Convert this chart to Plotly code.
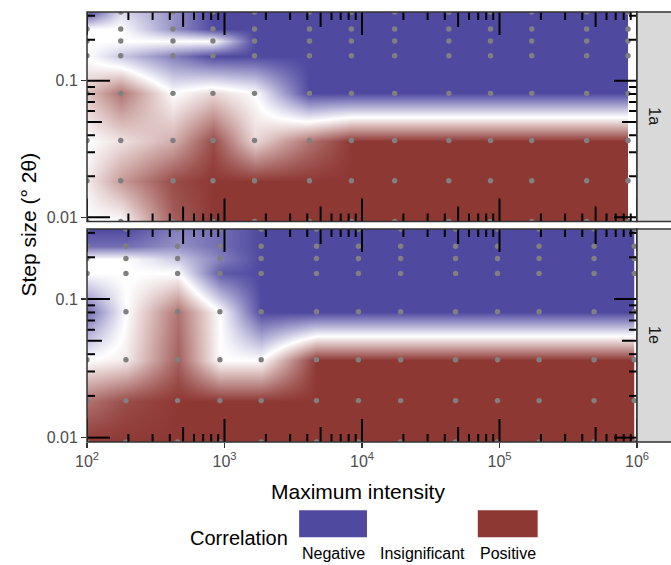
import numpy as np
import plotly.graph_objects as go

# ---------------- data ----------------
panel_labels = ["1a", "1e"]
# step sizes (rows, top -> bottom)
step_sizes = [0.32, 0.24, 0.196, 0.153, 0.081, 0.0365, 0.0185, 0.0093]
# maximum intensity grid (columns) for each panel
intensity_1a = [100, 176, 422, 824, 1654, 4150, 8375, 17285, 42840, 86020, 171600, 430500, 860600]
intensity_1e = [100, 192, 456, 926, 1848, 4666, 9417, 19100, 47910, 96720, 194100, 487300, 955000]
# correlation score (-1 negative, 0 insignificant, +1 positive), rows top -> bottom
corr_1a = [
    [-1.0, -0.2, -0.6, -1.0, -1, -1, -1, -1, -1, -1, -1, -1, -1],
    [0.0, 0.0, -0.6, -1.0, -1, -1, -1, -1, -1, -1, -1, -1, -1],
    [0.0, 0.0, 0.0, 0.0, -1, -1, -1, -1, -1, -1, -1, -1, -1],
    [0.0, -0.3, -0.7, -1.0, -1, -1, -1, -1, -1, -1, -1, -1, -1],
    [0.3, 0.7, 0.0, 0.2, 0.0, -1, -1, -1, -1, -1, -1, -1, -1],
    [0.0, 0.15, 0.4, 0.9, 0.2, 0.7, 1, 1, 1, 1, 1, 1, 1],
    [0.1, 0.5, 0.9, 1.0, 1, 1, 1, 1, 1, 1, 1, 1, 1],
    [0.0, 0.0, 0.8, 1.0, 1, 1, 1, 1, 1, 1, 1, 1, 1],
]
corr_1e = [
    [-1.0, -1.0, -0.7, -0.8, -1, -1, -1, -1, -1, -1, -1, -1, -1],
    [-0.8, -0.8, -0.6, -0.8, -1, -1, -1, -1, -1, -1, -1, -1, -1],
    [0.0, 0.0, -0.3, -0.7, -1, -1, -1, -1, -1, -1, -1, -1, -1],
    [0.0, 0.0, 0.0, -0.9, -1, -1, -1, -1, -1, -1, -1, -1, -1],
    [-0.8, 0.0, 0.7, 0.0, -1, -1, -1, -1, -1, -1, -1, -1, -1],
    [0.0, 0.1, 0.8, 0.0, 0.0, 1, 1, 1, 1, 1, 1, 1, 1],
    [0.7, 0.9, 1.0, 1.0, 1, 1, 1, 1, 1, 1, 1, 1, 1],
    [1.0, 1.0, 1.0, 1.0, 1, 1, 1, 1, 1, 1, 1, 1, 1],
]
legend_labels = ["Negative", "Insignificant", "Positive"]
legend_colors = ["#4F49A0", "#FFFFFF", "#8E3834"]
x_tickvals = [1e2, 1e3, 1e4, 1e5, 1e6]
x_ticktext = ["10<sup>2</sup>", "10<sup>3</sup>", "10<sup>4</sup>", "10<sup>5</sup>", "10<sup>6</sup>"]
y_tickvals = [0.01, 0.1]
y_ticktext = ["0.01", "0.1"]
X_MIN, X_MAX = 1e2, 1e6

# ---------------- layout geometry (pixels) ----------------
W, H = 671, 565
L, R, T, B = 86.5, 637.5, 11.5, 442.5
TOP_PANEL = (11.5, 221.5)
BOT_PANEL = (229.0, 442.5)


def px(xp):
    return (xp - L) / (R - L)


def py(yp):
    return (B - yp) / (B - T)


dom_top = [py(TOP_PANEL[1]), 1.0]
dom_bot = [0.0, py(BOT_PANEL[0])]

FONT = "Liberation Sans, Arial, sans-serif"
BORDER = "#333333"
colorscale = [[0.0, legend_colors[0]], [0.5, legend_colors[1]], [1.0, legend_colors[2]]]

fig = go.Figure()

ys_asc = step_sizes[::-1]
ymin, ymax = min(step_sizes), max(step_sizes)
panels = [
    ("1a", intensity_1a, corr_1a, "x2", "y2"),
    ("1e", intensity_1e, corr_1e, "x", "y"),
]
for label, xs, z, xa, ya in panels:
    z_asc = z[::-1]
    fig.add_trace(go.Heatmap(
        x=xs, y=ys_asc, z=z_asc, zsmooth="best", colorscale=colorscale,
        zmin=-1, zmax=1, showscale=False, xaxis=xa, yaxis=ya, hoverinfo="skip"))
    # raster ends at last data column
    fig.add_trace(go.Scatter(
        x=[xs[-1], X_MAX, X_MAX, xs[-1], xs[-1]], y=[ymin, ymin, ymax, ymax, ymin],
        fill="toself", fillcolor="white", mode="lines",
        line=dict(width=0, color="white"), xaxis=xa, yaxis=ya,
        hoverinfo="skip", showlegend=False))
    gx, gy = np.meshgrid(xs, step_sizes)
    fig.add_trace(go.Scatter(
        x=gx.ravel(), y=gy.ravel(), mode="markers",
        marker=dict(color="#808080", size=5.4, line=dict(width=0)),
        xaxis=xa, yaxis=ya, hoverinfo="skip", showlegend=False))

shapes = []
annotations = []

# log ticks (annotation_logticks style) on all four sides
x_ticks = []
for k in range(2, 6):
    for m in range(1, 10):
        x_ticks.append((m * 10 ** k, m))
x_ticks.append((1e6, 1))
y_ticks = []
for k in (-2, -1):
    for m in range(1, 10):
        v = m * 10.0 ** k
        if ymin <= v <= ymax:
            y_ticks.append((v, m))


def tlen(m):
    return 23 if m == 1 else (15 if m == 5 else 8)


for xa, ya in (("x2", "y2"), ("x", "y")):
    for v, m in x_ticks:
        Lk = tlen(m)
        for anchor, sgn in ((0, 1), (1, -1)):
            shapes.append(dict(type="line", xref=xa, yref=ya + " domain", ysizemode="pixel",
                               yanchor=anchor, x0=v, x1=v, y0=0, y1=sgn * Lk,
                               line=dict(color="black", width=2), layer="above"))
    for v, m in y_ticks:
        Lk = tlen(m)
        for anchor, sgn in ((0, 1), (1, -1)):
            shapes.append(dict(type="line", yref=ya, xref=xa + " domain", xsizemode="pixel",
                               xanchor=anchor, y0=v, y1=v, x0=0, x1=sgn * Lk,
                               line=dict(color="black", width=2), layer="above"))
    # panel border
    shapes.append(dict(type="rect", xref=xa + " domain", yref=ya + " domain",
                       x0=0, x1=1, y0=0, y1=1, line=dict(color=BORDER, width=1.5),
                       fillcolor="rgba(0,0,0,0)", layer="above"))

# facet strips
for label, (p0, p1) in zip(panel_labels, (TOP_PANEL, BOT_PANEL)):
    shapes.append(dict(type="rect", xref="paper", yref="paper",
                       x0=1.0, x1=px(690), y0=py(p1), y1=py(p0),
                       fillcolor="#D9D9D9", line=dict(color=BORDER, width=1.5), layer="above"))
    annotations.append(dict(text=label, xref="paper", yref="paper", x=px(655),
                            y=py((p0 + p1) / 2), textangle=90, showarrow=False,
                            font=dict(family=FONT, size=16, color="#1A1A1A"),
                            xanchor="center", yanchor="middle"))

# axis titles
annotations.append(dict(text="Maximum intensity", xref="paper", yref="paper",
                        x=px(358), y=py(492), showarrow=False,
                        font=dict(family=FONT, size=21, color="black"),
                        xanchor="center", yanchor="middle"))
annotations.append(dict(text="Step size (° 2θ)", xref="paper", yref="paper",
                        x=px(27), y=py(225), showarrow=False, textangle=-90,
                        font=dict(family=FONT, size=21, color="black"),
                        xanchor="center", yanchor="middle"))

# legend (drawn manually: keys above labels)
key_spans = [(299, 367), (378, 467), (478, 538)]
for lab, col, (k0, k1) in zip(legend_labels, legend_colors, key_spans):
    shapes.append(dict(type="rect", xref="paper", yref="paper",
                       x0=px(k0), x1=px(k1), y0=py(538), y1=py(511),
                       fillcolor=col, line=dict(width=0), layer="above"))
    annotations.append(dict(text=lab, xref="paper", yref="paper",
                            x=px((k0 + k1) / 2), y=py(554), showarrow=False,
                            font=dict(family=FONT, size=16, color="black"),
                            xanchor="center", yanchor="middle"))
annotations.append(dict(text="Correlation", xref="paper", yref="paper",
                        x=px(290), y=py(539), showarrow=False,
                        font=dict(family=FONT, size=20, color="black"),
                        xanchor="right", yanchor="middle"))

axis_common = dict(showgrid=False, zeroline=False, showline=False, automargin=False)
tickfont = dict(family=FONT, size=16, color="#4D4D4D")

fig.update_layout(
    width=W, height=H,
    margin=dict(l=L, r=W - R, t=T, b=H - B, pad=0, autoexpand=False),
    paper_bgcolor="white", plot_bgcolor="white",
    showlegend=False,
    font=dict(family=FONT),
    xaxis=dict(type="log", range=[np.log10(X_MIN), np.log10(X_MAX)], domain=[0, 1], anchor="y",
               tickvals=x_tickvals, ticktext=x_ticktext, ticks="outside", ticklen=5,
               tickwidth=1.1, tickcolor=BORDER, tickfont=tickfont, **axis_common),
    xaxis2=dict(type="log", range=[np.log10(X_MIN), np.log10(X_MAX)], domain=[0, 1], anchor="y2",
                matches="x", showticklabels=False, ticks="", **axis_common),
    yaxis=dict(type="log", range=[np.log10(ymin), np.log10(ymax)], domain=dom_bot, anchor="x",
               tickvals=y_tickvals, ticktext=y_ticktext, ticks="outside", ticklen=5,
               tickwidth=1.1, tickcolor=BORDER, tickfont=tickfont, **axis_common),
    yaxis2=dict(type="log", range=[np.log10(ymin), np.log10(ymax)], domain=dom_top, anchor="x2",
                tickvals=y_tickvals, ticktext=y_ticktext, ticks="outside", ticklen=5,
                tickwidth=1.1, tickcolor=BORDER, tickfont=tickfont, **axis_common),
    shapes=shapes,
    annotations=annotations,
)

fig.write_html("out.html", config={"displayModeBar": False, "staticPlot": True},
               post_script="document.body.style.margin='0px';")
